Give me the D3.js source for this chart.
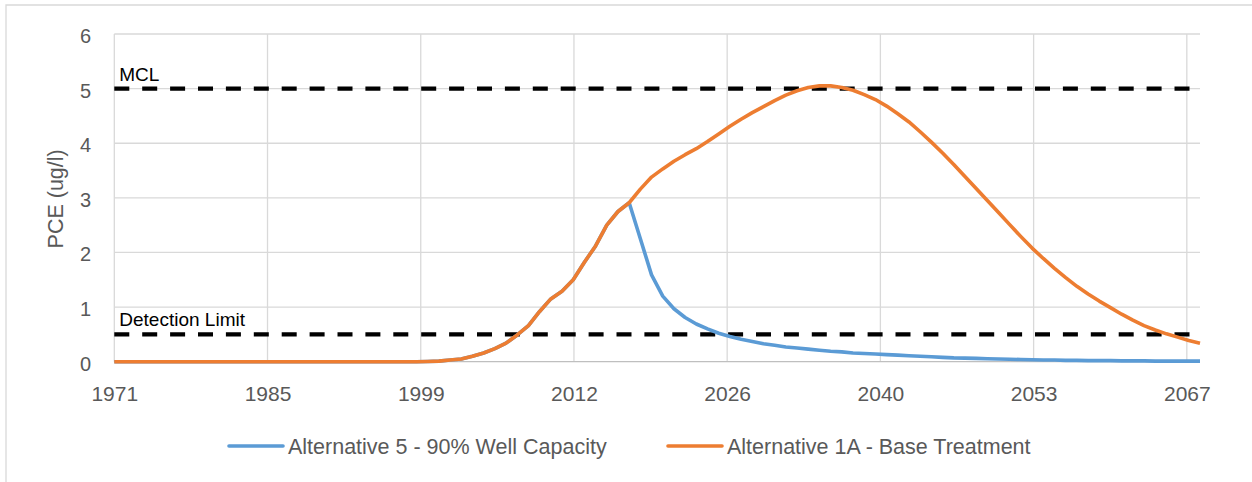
<!DOCTYPE html>
<html>
<head>
<meta charset="utf-8">
<script src="https://cdn.jsdelivr.net/npm/d3@7"></script>
<style>
  html, body { margin: 0; padding: 0; background: #fff; }
  svg { display: block; font-family: "Liberation Sans", Arial, sans-serif; }
</style>
</head>
<body>
<svg id="chart" width="1252" height="482"></svg>
<script>
// Annual PCE concentration (ug/l) at the monitoring point, 1971–2068
const years = d3.range(1971, 2069);

const alt5 = [
  0, 0, 0, 0, 0, 0, 0, 0, 0, 0,            // 1971-1980
  0, 0, 0, 0, 0, 0, 0, 0, 0, 0,            // 1981-1990
  0, 0, 0, 0, 0, 0, 0, 0, 0.005, 0.01,     // 1991-2000
  0.03, 0.05, 0.10, 0.16, 0.24, 0.34, 0.49, 0.66, 0.92, 1.15, // 2001-2010
  1.29, 1.50, 1.82, 2.12, 2.50, 2.75, 2.91, 2.25, 1.59, 1.20, // 2011-2020
  0.97, 0.81, 0.69, 0.60, 0.52, 0.46, 0.41, 0.37, 0.33, 0.30, // 2021-2030
  0.27, 0.25, 0.23, 0.21, 0.19, 0.18, 0.16, 0.15, 0.14, 0.13, // 2031-2040
  0.12, 0.11, 0.10, 0.09, 0.08, 0.07, 0.065, 0.06, 0.055, 0.05, // 2041-2050
  0.045, 0.04, 0.035, 0.03, 0.03, 0.025, 0.025, 0.02, 0.02, 0.02, // 2051-2060
  0.015, 0.015, 0.015, 0.01, 0.01, 0.01, 0.01, 0.01               // 2061-2068
];

const alt1A = [
  0, 0, 0, 0, 0, 0, 0, 0, 0, 0,            // 1971-1980
  0, 0, 0, 0, 0, 0, 0, 0, 0, 0,            // 1981-1990
  0, 0, 0, 0, 0, 0, 0, 0, 0.005, 0.01,     // 1991-2000
  0.03, 0.05, 0.10, 0.16, 0.24, 0.34, 0.49, 0.66, 0.92, 1.15, // 2001-2010
  1.29, 1.50, 1.82, 2.12, 2.50, 2.75, 2.91, 3.16, 3.38, 3.53, // 2011-2020
  3.67, 3.79, 3.90, 4.03, 4.17, 4.31, 4.44, 4.56, 4.67, 4.78, // 2021-2030
  4.88, 4.96, 5.02, 5.05, 5.05, 5.02, 4.97, 4.89, 4.80, 4.68, // 2031-2040
  4.54, 4.39, 4.21, 4.02, 3.82, 3.61, 3.39, 3.17, 2.95, 2.73, // 2041-2050
  2.51, 2.29, 2.08, 1.89, 1.71, 1.54, 1.38, 1.24, 1.11, 0.99, // 2051-2060
  0.87, 0.76, 0.66, 0.58, 0.51, 0.45, 0.39, 0.34              // 2061-2068
];

const seriesNames = ["Alternative 5 - 90% Well Capacity", "Alternative 1A - Base Treatment"];
const seriesColors = ["#5B9BD5", "#ED7D31"];

// Regulatory reference levels
const limitNames = ["MCL", "Detection Limit"];
const limitValues = [5, 0.5];

const yTicks = [0, 1, 2, 3, 4, 5, 6];
const xTickLabels = ["1971", "1985", "1999", "2012", "2026", "2040", "2053", "2067"];
const xTickStepDays = 5000;

// ---------------------------------------------------------------
const svg = d3.select("#chart");
const plot = { left: 114.3, right: 1200, top: 34, bottom: 361.7 };
const textGray = "#595959";
const gridGray = "#d9d9d9";

const dateOf = y => new Date(Date.UTC(y, 9, 1));
const x = d3.scaleUtc()
  .domain([dateOf(years[0]), dateOf(years[years.length - 1])])
  .range([plot.left, plot.right]);
const y = d3.scaleLinear().domain([0, 6]).range([plot.bottom, plot.top]);

const xTickValues = xTickLabels.map((_, i) => d3.utcDay.offset(x.domain()[0], i * xTickStepDays));

// chart frame
svg.append("path")
  .attr("d", "M6,490 L6,5 L1260,5")
  .attr("fill", "none").attr("stroke", gridGray).attr("stroke-width", 1.3);

// horizontal gridlines
svg.append("g")
  .selectAll("line").data(yTicks.filter(d => d > 0)).join("line")
  .attr("x1", plot.left).attr("x2", plot.right)
  .attr("y1", d => y(d)).attr("y2", d => y(d))
  .attr("stroke", gridGray).attr("stroke-width", 1.3);

// vertical gridlines
svg.append("g")
  .selectAll("line").data(xTickValues).join("line")
  .attr("x1", d => x(d)).attr("x2", d => x(d))
  .attr("y1", plot.top).attr("y2", plot.bottom)
  .attr("stroke", gridGray).attr("stroke-width", 1.3);

// x axis baseline
svg.append("line")
  .attr("x1", plot.left).attr("x2", plot.right)
  .attr("y1", y(0)).attr("y2", y(0))
  .attr("stroke", "#bfbfbf").attr("stroke-width", 1.3);

// x axis labels
const xAxis = d3.axisBottom(x)
  .tickValues(xTickValues)
  .tickFormat((d, i) => xTickLabels[i])
  .tickSize(0).tickPadding(0);
const gx = svg.append("g").attr("transform", `translate(0,${y(0)})`).call(xAxis);
gx.select(".domain").remove();
gx.selectAll("text")
  .attr("y", 39).attr("dy", 0)
  .attr("fill", textGray)
  .style("font-size", "21px")
  .style("font-family", "'Liberation Sans', Arial, sans-serif");

// y axis labels
const yAxis = d3.axisLeft(y).tickValues(yTicks).tickFormat(d3.format("d")).tickSize(0).tickPadding(0);
const gy = svg.append("g").attr("transform", `translate(91,0)`).call(yAxis);
gy.select(".domain").remove();
gy.selectAll("text")
  .attr("x", 0).attr("dy", "0.42em")
  .attr("fill", textGray)
  .style("font-size", "20px")
  .style("font-family", "'Liberation Sans', Arial, sans-serif");

// y axis title
svg.append("text")
  .attr("transform", `translate(63,${(plot.top + plot.bottom) / 2 + 1}) rotate(-90)`)
  .attr("text-anchor", "middle")
  .attr("fill", textGray)
  .style("font-size", "21.5px")
  .text("PCE (ug/l)");

// reference levels (dashed)
const limits = limitNames.map((name, i) => ({ name, value: limitValues[i] }));
svg.append("g")
  .selectAll("line").data(limits).join("line")
  .attr("x1", x.range()[0]).attr("x2", x.range()[1])
  .attr("y1", d => y(d.value)).attr("y2", d => y(d.value))
  .attr("stroke", "#000").attr("stroke-width", 4.3)
  .attr("stroke-dasharray", "15,12.9");
svg.append("g")
  .selectAll("text").data(limits).join("text")
  .attr("x", plot.left + 5)
  .attr("y", d => y(d.value) - 8)
  .attr("fill", "#000")
  .style("font-size", "19px")
  .text(d => d.name);

// concentration series
const series = [alt5, alt1A].map((vals, i) => ({
  name: seriesNames[i],
  color: seriesColors[i],
  points: years.map((yr, j) => ({ date: dateOf(yr), value: vals[j] }))
}));
const line = d3.line().x(d => x(d.date)).y(d => y(d.value));
svg.append("g")
  .selectAll("path").data(series).join("path")
  .attr("d", d => line(d.points))
  .attr("fill", "none")
  .attr("stroke", d => d.color)
  .attr("stroke-width", 3.6)
  .attr("stroke-linejoin", "round");

// legend
const legendX = [229, 668];
const legend = svg.append("g")
  .selectAll("g").data(series).join("g")
  .attr("transform", (d, i) => `translate(${legendX[i]},446)`);
legend.append("line")
  .attr("x1", 0).attr("x2", 54)
  .attr("stroke", d => d.color).attr("stroke-width", 3.6)
  .attr("stroke-linecap", "round");
legend.append("text")
  .attr("x", 59).attr("y", 7.5)
  .attr("fill", textGray)
  .style("font-size", "21.5px")
  .text(d => d.name);
</script>
</body>
</html>
